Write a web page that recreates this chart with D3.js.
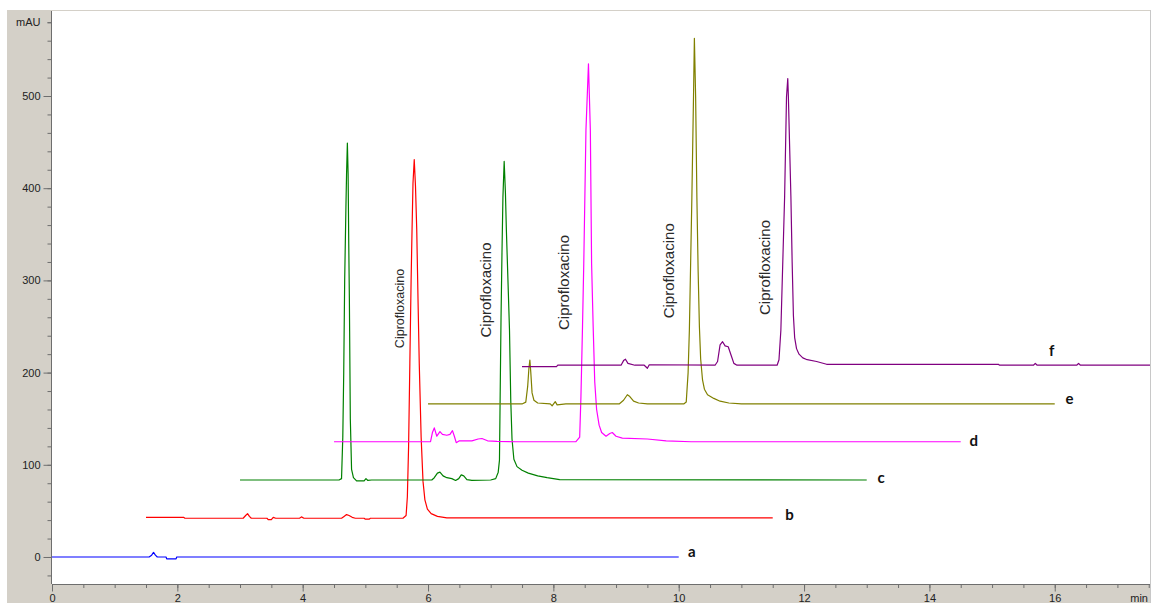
<!DOCTYPE html>
<html>
<head>
<meta charset="utf-8">
<script src="https://cdn.jsdelivr.net/npm/d3@7"></script>
<style>
  html, body { margin: 0; padding: 0; background: #ffffff; overflow: hidden; }
  svg { display: block; }
  .axis text { font-family: "Liberation Sans", Arial, sans-serif; font-size: 11px; fill: #222; }
  .axis line { stroke: #6e6e6e; }
  .axis path { display: none; }
</style>
</head>
<body>
<svg id="chart" width="1153" height="603"></svg>
<script>
// Retention time (min) / absorbance (mAU) vertices for each overlaid chromatogram
const traceA = [[0,0],[1.55,0],[1.59,2],[1.62,5],[1.65,2],[1.68,0],[1.82,0],[1.83,-2],[1.98,-2],[1.99,0],[10,0]];

const traceB = [[1.5,43],[2.1,43],[2.12,42],[3.05,42],[3.09,45],[3.12,47],[3.15,44],[3.18,42],[3.43,42],[3.45,40.5],
  [3.50,40.5],[3.53,43],[3.57,42],[3.95,42],[3.98,43.5],[4.02,42],[4.62,42],[4.66,44],[4.70,46],[4.74,45],[4.79,43],
  [4.84,42],[4.98,42],[5.00,41],[5.06,41],[5.08,42],[5.60,42],[5.65,45],[5.67,65],[5.69,120],[5.71,210],[5.73,300],
  [5.745,355],[5.76,405],[5.78,431],[5.80,402],[5.82,355],[5.84,280],[5.86,210],[5.89,130],[5.92,82],[5.95,62],
  [5.99,52],[6.05,47],[6.15,44],[6.3,42.5],[11.5,42.5]];

const traceC = [[3.0,83.5],[4.58,83.5],[4.62,85],[4.64,130],[4.655,200],[4.67,300],[4.69,380],[4.70,415],[4.713,449],
  [4.725,415],[4.735,340],[4.745,280],[4.76,150],[4.78,95],[4.81,86],[4.86,82.5],[4.98,82.5],[5.01,85],[5.04,83],
  [5.10,83.5],[6.06,83.5],[6.10,86],[6.15,91],[6.19,92],[6.24,88],[6.30,86],[6.38,85],[6.44,83],[6.49,85],[6.53,89],
  [6.57,88],[6.62,84],[6.70,83],[7.0,83.5],[7.08,85],[7.12,92],[7.14,105],[7.155,200],[7.165,260],[7.18,330],
  [7.195,390],[7.215,429],[7.235,395],[7.25,355],[7.28,290],[7.30,246],[7.32,170],[7.34,128],[7.37,106],[7.42,98],
  [7.5,94],[7.6,91],[7.75,88],[7.9,86],[8.1,84],[13.0,83.5]];

const traceD = [[4.5,125],[6.04,125],[6.07,135],[6.10,140],[6.14,131],[6.19,136],[6.23,133],[6.30,132],[6.35,133],
  [6.39,137],[6.42,131],[6.45,124],[6.50,126],[6.70,126],[6.80,128],[6.86,128.5],[6.95,126],[7.1,125.5],[7.4,125],
  [8.36,125],[8.42,130],[8.44,174],[8.465,250],[8.485,318],[8.52,463],[8.56,535],[8.59,463],[8.61,318],[8.635,250],
  [8.66,190],[8.69,160],[8.73,143],[8.77,135],[8.84,131],[8.90,134],[8.94,135],[9.0,131],[9.1,129],[9.5,128],
  [9.8,126],[10.2,125],[14.5,125]];

const traceE = [[6.0,166],[7.50,166],[7.56,168],[7.59,185],[7.61,205],[7.625,213.5],[7.64,200],[7.66,178],[7.69,170],
  [7.75,167],[7.95,166],[7.98,164],[8.03,168.5],[8.06,165],[8.2,166],[9.05,166],[9.12,170],[9.18,176],[9.22,174],
  [9.28,169],[9.36,167],[9.5,166],[10.08,166],[10.12,168],[10.15,200],[10.17,246],[10.21,390],[10.236,499],
  [10.25,562.6],[10.27,499],[10.29,390],[10.31,310],[10.33,250],[10.35,215],[10.38,192],[10.41,182],[10.46,176],
  [10.56,172],[10.66,169],[10.8,167],[11.0,166],[16.0,166]];

const traceF = [[7.5,206.5],[8.05,206.5],[8.07,208],[9.08,208],[9.12,213],[9.15,214.5],[9.19,210],[9.3,208],[9.45,208],
  [9.5,204.7],[9.53,208.5],[10.58,208],[10.62,212],[10.66,230],[10.70,233.5],[10.74,229],[10.79,228],[10.84,218],
  [10.88,210],[10.93,208],[11.57,208],[11.60,214],[11.63,246],[11.69,391],[11.72,499],[11.74,519],[11.75,499],
  [11.79,391],[11.81,320],[11.83,262],[11.85,238],[11.88,226],[11.92,220],[11.98,216],[12.05,214],[12.2,212],
  [12.36,209],[15.1,209],[15.12,208],[15.66,208],[15.69,210],[15.72,208],[16.35,208],[16.38,210],[16.41,208],
  [17.52,208]];

const traceKeys = ["a", "b", "c", "d", "e", "f"];
const traceSeries = [traceA, traceB, traceC, traceD, traceE, traceF];

// Trace letters: [left edge (min), baseline (mAU)]
const letterAnchors = [[10.15,0],[11.70,40],[13.17,80],[14.64,120],[16.17,166],[15.91,218]];

// Peak annotations: [centre (min), centre (mAU), text]
const peakNotes = [
  [5.548, 269.5, "Ciprofloxacino"],
  [6.924, 289.6, "Ciprofloxacino"],
  [8.172, 297.7, "Ciprofloxacino"],
  [9.848, 310.4, "Ciprofloxacino"],
  [11.365, 314.0, "Ciprofloxacino"]
];

// Axis ticks
const xMajorTicks = [0, 2, 4, 6, 8, 10, 12, 14, 16];
const xMinorTicks = d3.range(0, 17.51, 0.5);
const yMajorTicks = [0, 100, 200, 300, 400, 500];
const yMinorTicks = d3.range(-20, 581, 20);
const yUnitTick = 580;
const xUnitLabel = "min";
const yUnitLabel = "mAU";

const colors = ["#0000ff", "#ff0000", "#008000", "#ff00ff", "#808000", "#800080"];

const svg = d3.select("#chart");
const plot = { left: 52, right: 1150, top: 11, bottom: 584 };

const x = d3.scaleLinear().domain([0, 17.52]).range([plot.left, plot.right]);
const y = d3.scaleLinear().domain([-29.3, 592.2]).range([plot.bottom, plot.top]);

// Window-style grey frame and white plotting area
svg.append("rect").attr("x", 7).attr("y", 10).attr("width", 1143).attr("height", 593).attr("fill", "#d4d0c8");
svg.append("rect").attr("x", plot.left).attr("y", plot.top)
  .attr("width", plot.right - plot.left).attr("height", plot.bottom - plot.top).attr("fill", "#ffffff");
svg.append("line").attr("x1", plot.right + 0.5).attr("x2", plot.right + 0.5).attr("y1", 10).attr("y2", 603)
  .attr("stroke", "#c8c8c8");

// Axes
const yMinor = d3.axisLeft(y).tickValues(yMinorTicks).tickSize(4).tickFormat("");
const yMajor = d3.axisLeft(y).tickValues(yMajorTicks).tickSize(8).tickFormat(d3.format("d"));
const yUnit = d3.axisLeft(y).tickValues([yUnitTick]).tickSize(4).tickPadding(7).tickFormat(() => yUnitLabel);
const gy = svg.append("g").attr("class", "axis").attr("transform", `translate(${plot.left - 0.5},0)`);
gy.append("g").call(yMinor);
gy.append("g").call(yMajor);
gy.append("g").call(yUnit);
gy.append("line").attr("x1", 0).attr("x2", 0).attr("y1", plot.top).attr("y2", plot.bottom).attr("stroke", "#9a9a9a");

const xMinor = d3.axisBottom(x).tickValues(xMinorTicks).tickSize(3.5).tickFormat("");
const xMajor = d3.axisBottom(x).tickValues(xMajorTicks).tickSize(7).tickFormat(d3.format("d"));
const gx = svg.append("g").attr("class", "axis").attr("transform", `translate(0,${plot.bottom + 0.5})`);
gx.append("g").call(xMinor);
gx.append("g").call(xMajor);
gx.append("line").attr("x1", plot.left).attr("x2", plot.right).attr("y1", 0).attr("y2", 0).attr("stroke", "#9a9a9a");
gx.append("text").attr("x", plot.right - 2).attr("y", 17.5).attr("text-anchor", "end").text(xUnitLabel);

// Chromatogram traces
svg.append("clipPath").attr("id", "plotClip").append("rect")
  .attr("x", plot.left).attr("y", plot.top).attr("width", plot.right - plot.left).attr("height", plot.bottom - plot.top);

const line = d3.line().x(d => x(d[0])).y(d => y(d[1]));
svg.append("g").attr("clip-path", "url(#plotClip)")
  .selectAll("path").data(traceSeries).join("path")
  .attr("d", line)
  .attr("fill", "none")
  .attr("stroke", (d, i) => colors[i])
  .attr("stroke-width", 1.2)
  .attr("stroke-linejoin", "round");

// Peak labels, written vertically
svg.append("g").selectAll("text").data(peakNotes).join("text")
  .attr("transform", d => `translate(${x(d[0])},${y(d[1])}) rotate(-90)`)
  .attr("text-anchor", "middle")
  .attr("dy", "0.35em")
  .attr("font-family", "'Liberation Sans', Arial, sans-serif")
  .attr("font-size", (d, i) => i === 0 ? 12.5 : 15)
  .attr("fill", "#2a2a2a")
  .text(d => d[2]);

// Trace letters
svg.append("g").selectAll("text").data(letterAnchors).join("text")
  .attr("x", d => x(d[0]))
  .attr("y", d => y(d[1]))
  .attr("font-family", "Lato, 'Liberation Sans', sans-serif")
  .attr("font-weight", "bold")
  .attr("font-size", 15)
  .attr("fill", "#111")
  .text((d, i) => traceKeys[i]);
</script>
</body>
</html>
